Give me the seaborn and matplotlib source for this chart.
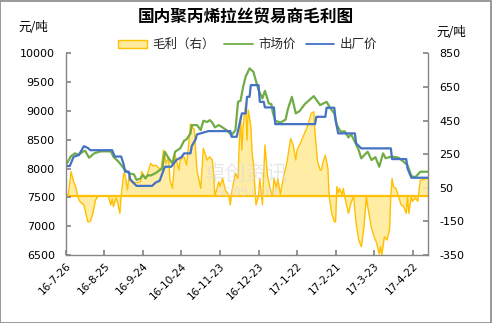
import matplotlib
matplotlib.use("Agg")
import matplotlib.pyplot as plt
from matplotlib.patches import Patch, Rectangle
from matplotlib.lines import Line2D
import seaborn as sns
import pandas as pd

# ---------------- data ----------------
start_date = "2016-07-26"
end_date = "2017-05-04"

# factory price (出厂价): days since start, yuan/ton
factory_day = [0, 3, 6, 10, 14, 17, 19, 36, 38, 43, 45, 46, 49, 50, 55, 67, 70, 73, 77, 82, 86, 90, 92,
               97, 98, 101, 102, 111, 128, 129, 133, 135, 137, 140, 141, 143, 144, 150, 151, 154, 155,
               162, 163, 194, 195, 202, 203, 209, 210, 212, 225, 226, 230, 253, 254, 265, 266, 269, 282]
factory_price = [8045, 8045, 8206, 8235, 8390, 8360, 8320, 8320, 8210, 8210, 8070, 7946, 7946, 7810, 7700,
                 7700, 7760, 7790, 8033, 8033, 8150, 8200, 8265, 8265, 8392, 8508, 8594, 8652, 8652, 8553,
                 8553, 8756, 8959, 8959, 9247, 9247, 9450, 9450, 9160, 9160, 9063, 9063, 8773, 8773, 8900,
                 8900, 9057, 9057, 8843, 8612, 8612, 8438, 8352, 8352, 8166, 8166, 8005, 7842, 7842]

# market price (市场价)
market_day = [0, 4, 7, 10, 13, 15, 18, 22, 27, 35, 37, 41, 45, 49, 53, 55, 58, 60, 62, 64, 66, 70, 75,
              77, 80, 83, 85, 89, 92, 94, 97, 98, 102, 105, 107, 110, 112, 114, 116, 119, 121, 125, 129,
              132, 134, 136, 138, 140, 143, 146, 147, 150, 153, 155, 158, 160, 161, 163, 167, 171, 173,
              176, 179, 182, 186, 193, 198, 203, 206, 209, 211, 214, 217, 220, 222, 225, 228, 230, 233,
              235, 238, 241, 244, 247, 249, 252, 255, 259, 263, 266, 269, 272, 276, 282]
market_price = [8062, 8218, 8265, 8240, 8293, 8310, 8189, 8265, 8300, 8300, 8206, 8120, 8005, 7918, 7900,
                7802, 7830, 7889, 7830, 7889, 7880, 7925, 8005, 8293, 8178, 8092, 8293, 8352, 8484, 8510,
                8612, 8756, 8756, 8669, 8831, 8810, 8843, 8800, 8716, 8756, 8730, 8669, 8582, 8669, 9160,
                9180, 9420, 9600, 9740, 9682, 9600, 9363, 9219, 9351, 9132, 9120, 8987, 8831, 8800, 8850,
                9045, 9247, 8959, 9000, 9120, 9259, 9103, 9160, 9045, 8960, 8756, 8640, 8650, 8542, 8600,
                8466, 8322, 8178, 8250, 8293, 8149, 8200, 8033, 8265, 8180, 8200, 8206, 8190, 8120, 8060,
                7871, 7850, 7946, 7946]

# trader margin (毛利), right axis
margin_day = [0, 2, 4, 6, 8, 9, 11, 14, 17, 19, 21, 23, 25, 33, 35, 36, 37, 39, 40, 42, 43, 45, 46, 48,
              49, 52, 54, 58, 59, 62, 64, 66, 68, 70, 74, 76, 78, 80, 81, 83, 85, 88, 89, 92, 94, 97, 100,
              102, 105, 107, 110, 112, 114, 115, 116, 119, 120, 122, 124, 127, 128, 129, 132, 134, 135,
              136, 137, 138, 140, 141, 142, 144, 145, 146, 148, 150, 151, 153, 155, 157, 159, 161, 162,
              164, 165, 167, 169, 172, 175, 177, 179, 180, 182, 188, 191, 193, 194, 196, 198, 199, 200,
              202, 204, 205, 207, 209, 210, 211, 212, 213, 215, 216, 217, 220, 222, 224, 226, 228, 230,
              232, 234, 235, 238, 240, 241, 242, 244, 245, 246, 248, 250, 252, 253, 254, 255, 257, 259,
              261, 263, 265, 266, 267, 269, 270, 272, 274, 276, 282]
margin = [-13, 17, 146, 86, 47, 0, -33, -52, -152, -150, -102, -23, 0, 0, -52, -15, -62, -10, -30, -102,
          0, 136, 130, 37, 116, 90, 80, 86, 146, 106, 146, 196, 180, 185, 156, 275, 196, 235, 96, 47, 245,
          156, 215, 235, 185, 430, 395, 156, 47, 285, 215, 235, 215, 136, 0, 86, 59, 106, 40, 0, -52, 20,
          136, 106, 315, 473, 275, 420, 553, 334, 513, 414, 255, 196, -52, 0, 106, -52, 305, 120, 47, 0,
          106, 50, 106, 10, 100, 196, 344, 305, 215, 275, 305, 414, 493, 503, 374, 205, 156, 156, 196,
          245, 166, 0, -102, -152, -152, 57, 20, 47, 10, 47, 0, -102, -40, 0, -161, -261, -300, -191, 0,
          -60, -191, -241, -261, -280, -344, -300, -350, -241, -261, -201, 0, 106, 57, 47, 0, -52, -62,
          -102, 0, -102, 0, -30, -10, -30, 96, 106]

tick_labels = ["16-7-26", "16-8-25", "16-9-24", "16-10-24", "16-11-23", "16-12-23",
               "17-1-22", "17-2-21", "17-3-23", "17-4-22"]

left_ticks = [6500, 7000, 7500, 8000, 8500, 9000, 9500, 10000]
right_ticks = [-350, -150, 50, 250, 450, 650, 850]

# ---------------- style ----------------
sns.set_theme(style="white")
plt.rcParams["font.family"] = ["Noto Sans CJK SC", "DejaVu Sans"]
plt.rcParams["axes.unicode_minus"] = False

base = pd.Timestamp(start_date)
df_f = pd.DataFrame({"date": base + pd.to_timedelta(factory_day, unit="D"), "price": factory_price})
df_m = pd.DataFrame({"date": base + pd.to_timedelta(market_day, unit="D"), "price": market_price})
df_g = pd.DataFrame({"date": base + pd.to_timedelta(margin_day, unit="D"), "margin": margin})

GREEN = "#70AD47"
BLUE = "#4472C4"
GOLD = "#FFC000"
FILL = "#FFEB9C"
GREY = "#868686"

fig = plt.figure(figsize=(4.92, 3.23), dpi=100)
ax = fig.add_axes([0.134, 0.2105, 0.736, 0.624])
ax2 = ax.twinx()

# margin area on right axis (behind)
ax2.fill_between(df_g["date"], 0, df_g["margin"], color=FILL, alpha=0.9, linewidth=0)
sns.lineplot(data=df_g, x="date", y="margin", ax=ax2, color=GOLD, linewidth=1.0)
ax2.axhline(0, color=GOLD, linewidth=1.6)

# price lines on left axis (front)
sns.lineplot(data=df_m, x="date", y="price", ax=ax, color=GREEN, linewidth=1.6)
sns.lineplot(data=df_f, x="date", y="price", ax=ax, color=BLUE, linewidth=1.6)
ax.set_zorder(ax2.get_zorder() + 1)
ax.patch.set_visible(False)

ax.set_ylim(6500, 10000)
ax2.set_ylim(-350, 850)
ax.set_yticks(left_ticks)
ax2.set_yticks(right_ticks)
ax.set_xlim(base, pd.Timestamp(end_date))
tick_dates = [base + pd.Timedelta(days=30 * i) for i in range(len(tick_labels))]
ax.set_xticks(tick_dates)
ax.set_xticklabels(tick_labels, rotation=45, ha="right", rotation_mode="anchor")

for a in (ax, ax2):
    a.set_xlabel("")
    a.set_ylabel("")
    for s in a.spines.values():
        s.set_color(GREY)
        s.set_linewidth(1.0)
    a.spines["top"].set_visible(False)
ax.spines["right"].set_visible(False)
ax2.spines["left"].set_visible(False)
ax2.spines["bottom"].set_visible(False)

ax.tick_params(axis="y", direction="in", length=3.5, color=GREY, labelsize=8, pad=8, left=True,
               labelcolor="#000000")
ax.tick_params(axis="x", direction="in", length=3.5, color=GREY, labelsize=7.5, pad=4, bottom=True,
               labelcolor="#000000")
ax2.tick_params(axis="y", direction="in", length=3.5, color=GREY, labelsize=8, pad=8, right=True,
                labelcolor="#000000")
for lab in ax.get_yticklabels() + ax2.get_yticklabels() + ax.get_xticklabels():
    lab.set_family(["DejaVu Sans"])

# watermark
ax.text(0.5, 0.4, "卓创资讯", transform=ax.transAxes, ha="center", va="center",
        fontsize=15, color="#d9d9d9", alpha=0.6, zorder=0)
ax.text(0.5, 0.31, "SCI99.COM", transform=ax.transAxes, ha="center", va="center",
        fontsize=9, color="#d9d9d9", alpha=0.6, zorder=0)

# title and units
fig.text(0.5, 0.945, "国内聚丙烯拉丝贸易商毛利图", ha="center", va="center",
         fontsize=12, fontweight="bold", color="#000000")
fig.text(0.067, 0.915, "元/吨", ha="center", va="center", fontsize=9, color="#000000")
fig.text(0.917, 0.90, "元/吨", ha="center", va="center", fontsize=9, color="#000000")

handles = [Patch(facecolor=FILL, edgecolor=GOLD, linewidth=1.0),
           Line2D([], [], color=GREEN, linewidth=1.3),
           Line2D([], [], color=BLUE, linewidth=1.3)]
fig.legend(handles, ["毛利（右）", "市场价", "出厂价"], loc="center", bbox_to_anchor=(0.503, 0.862),
           ncol=3, frameon=False, fontsize=9, handlelength=2.3, handleheight=0.6,
           columnspacing=0.8, handletextpad=0.4)

fig.patches.append(Rectangle((0.001, 0.001), 0.997, 0.997, transform=fig.transFigure,
                             fill=False, edgecolor="#888888", linewidth=1.2))

fig.savefig("out.png", dpi=100)
